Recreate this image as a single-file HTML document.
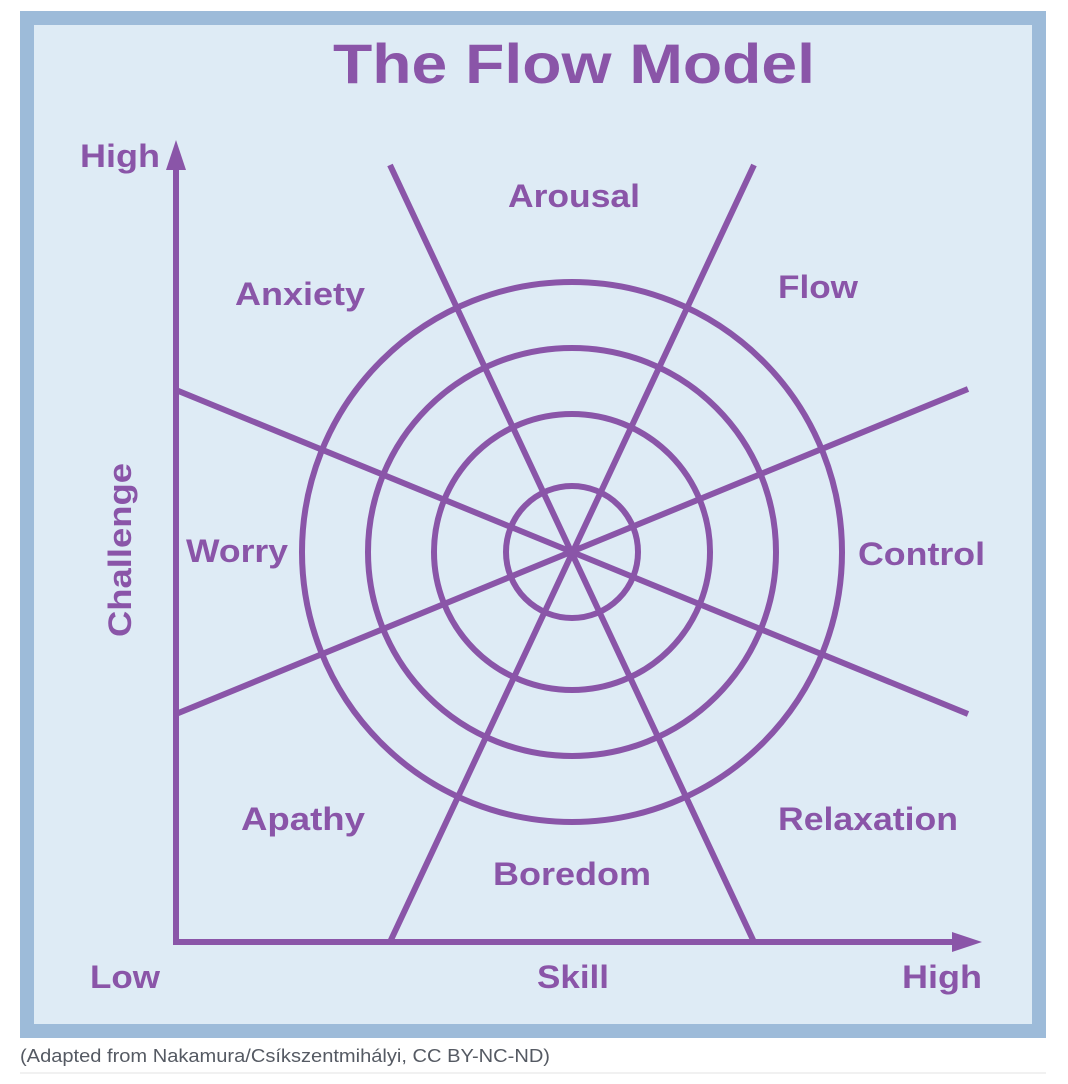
<!DOCTYPE html>
<html><head><style>
body{margin:0;background:#fff;width:1068px;height:1084px;overflow:hidden;font-family:"Liberation Sans",sans-serif}
</style></head><body>
<svg width="1068" height="1084" viewBox="0 0 1068 1084" style="position:absolute;left:0;top:0">
<rect x="20" y="11" width="1026" height="1027" fill="#9dbbd9"/>
<rect x="34" y="25" width="998" height="999" fill="#deebf5"/>
<g stroke="#8a55a8" stroke-width="6" fill="none">
<circle cx="572" cy="552" r="270"/>
<circle cx="572" cy="552" r="204"/>
<circle cx="572" cy="552" r="138"/>
<circle cx="572" cy="552" r="66"/>
<line x1="390" y1="165" x2="754" y2="942"/>
<line x1="754" y1="165" x2="390" y2="942"/>
<line x1="176" y1="390" x2="968" y2="714"/>
<line x1="176" y1="714" x2="968" y2="389"/>
<line x1="176" y1="945" x2="176" y2="160"/>
<line x1="173" y1="942" x2="965" y2="942"/>
</g>
<polygon points="176,140 166,170 186,170" fill="#8a55a8"/>
<polygon points="982,942 952,932 952,952" fill="#8a55a8"/>
<g fill="#8a55a8" font-family="Liberation Sans, sans-serif" font-weight="bold" font-size="32" lengthAdjust="spacingAndGlyphs">
<text x="333" y="83" font-size="56" textLength="482" lengthAdjust="spacingAndGlyphs">The Flow Model</text>
<text x="80" y="167" textLength="80" lengthAdjust="spacingAndGlyphs">High</text>
<text x="508" y="207" textLength="132" lengthAdjust="spacingAndGlyphs">Arousal</text>
<text x="235" y="305" textLength="130" lengthAdjust="spacingAndGlyphs">Anxiety</text>
<text x="778" y="298" textLength="80" lengthAdjust="spacingAndGlyphs">Flow</text>
<text x="186" y="562" textLength="102" lengthAdjust="spacingAndGlyphs">Worry</text>
<text x="858" y="565" textLength="127" lengthAdjust="spacingAndGlyphs">Control</text>
<text x="241" y="830" textLength="124" lengthAdjust="spacingAndGlyphs">Apathy</text>
<text x="778" y="830" textLength="180" lengthAdjust="spacingAndGlyphs">Relaxation</text>
<text x="493" y="885" textLength="158" lengthAdjust="spacingAndGlyphs">Boredom</text>
<text x="90" y="988" textLength="70" lengthAdjust="spacingAndGlyphs">Low</text>
<text x="537" y="988" textLength="72" lengthAdjust="spacingAndGlyphs">Skill</text>
<text x="902" y="988" textLength="80" lengthAdjust="spacingAndGlyphs">High</text>
<text transform="translate(131,637) rotate(-90)" textLength="174" lengthAdjust="spacingAndGlyphs">Challenge</text>
</g>
<text x="20" y="1062" font-size="18" fill="#555a63" font-family="Liberation Sans, sans-serif" textLength="530" lengthAdjust="spacingAndGlyphs">(Adapted from Nakamura/Csíkszentmihályi, CC BY-NC-ND)</text>
<line x1="20" y1="1073" x2="1046" y2="1073" stroke="#e3e3e3" stroke-width="1"/>
</svg>
</body></html>
